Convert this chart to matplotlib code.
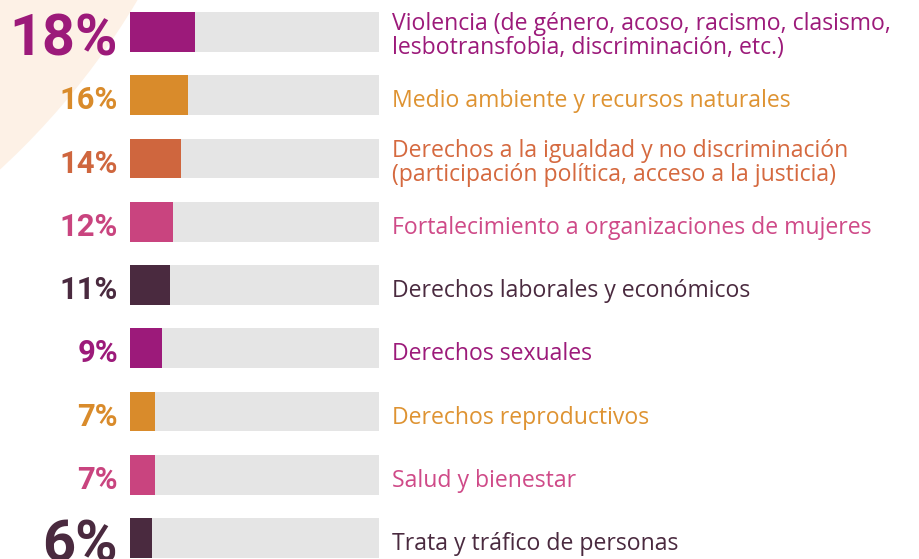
import matplotlib.pyplot as plt
from matplotlib.patches import Circle
from matplotlib.transforms import offset_copy

categories = [
    "Violencia (de género, acoso, racismo, clasismo,\nlesbotransfobia, discriminación, etc.)",
    "Medio ambiente y recursos naturales",
    "Derechos a la igualdad y no discriminación\n(participación política, acceso a la justicia)",
    "Fortalecimiento a organizaciones de mujeres",
    "Derechos laborales y económicos",
    "Derechos sexuales",
    "Derechos reproductivos",
    "Salud y bienestar",
    "Trata y tráfico de personas",
]
percentages = [18, 16, 14, 12, 11, 9, 7, 7, 6]

magenta = '#9C1A7A'
orange = '#D98B2B'
rust = '#CF663E'
pink = '#C9447F'
plum = '#4A2A3F'
bar_colors = [magenta, orange, rust, pink, plum, magenta, orange, pink, plum]
text_colors = ['#9C1A7A', '#DE9332', '#D5693F', '#CF4A88', '#4A2A3F',
               '#9C1A7A', '#DE9332', '#CF4A88', '#4A2A3F']
big_label = [True, False, False, False, False, False, False, False, True]

plt.rcParams['font.family'] = ['Roboto', 'DejaVu Sans']

fig = plt.figure(figsize=(9.19, 5.59), dpi=100)

# soft peach circle in the top-left corner (pixel -> inches)
fig.add_artist(Circle((-5.09, 9.43), 7.52, transform=fig.dpi_scale_trans,
                      facecolor='#FDF1E6', edgecolor='none', zorder=0))

ax = fig.add_axes([130 / 919, 0, 249 / 919, 1])
ax.set_xlim(0, 69)
ax.set_ylim(8.332, -0.506)
ax.axis('off')

rows = list(range(len(categories)))
ax.barh(rows, 69, height=0.632, color='#E5E5E5', zorder=1)
ax.barh(rows, percentages, height=0.632, color=bar_colors, zorder=2)

for i, (pct, cat) in enumerate(zip(percentages, categories)):
    if big_label[i]:
        size, cap = 41.5, 41
    else:
        size, cap = 22.3, 22
    tr = offset_copy(ax.transData, fig=fig, x=-12, y=-(cap / 2 + 3), units='dots')
    ax.text(0, i, f"{pct}%", transform=tr, ha='right', va='baseline',
            fontsize=size, fontweight='bold', color=bar_colors[i])

    if '\n' in cat:
        tr2 = offset_copy(ax.transData, fig=fig, x=262, y=-4, units='dots')
        ax.text(0, i, cat, transform=tr2, ha='left', va='center',
                fontsize=16.6, color=text_colors[i], linespacing=1.0,
                family=['Open Sans', 'DejaVu Sans'])
    else:
        tr2 = offset_copy(ax.transData, fig=fig, x=262, y=-12, units='dots')
        ax.text(0, i, cat, transform=tr2, ha='left', va='baseline',
                fontsize=16.6, color=text_colors[i],
                family=['Open Sans', 'DejaVu Sans'])

fig.savefig('out.png', dpi=100)
